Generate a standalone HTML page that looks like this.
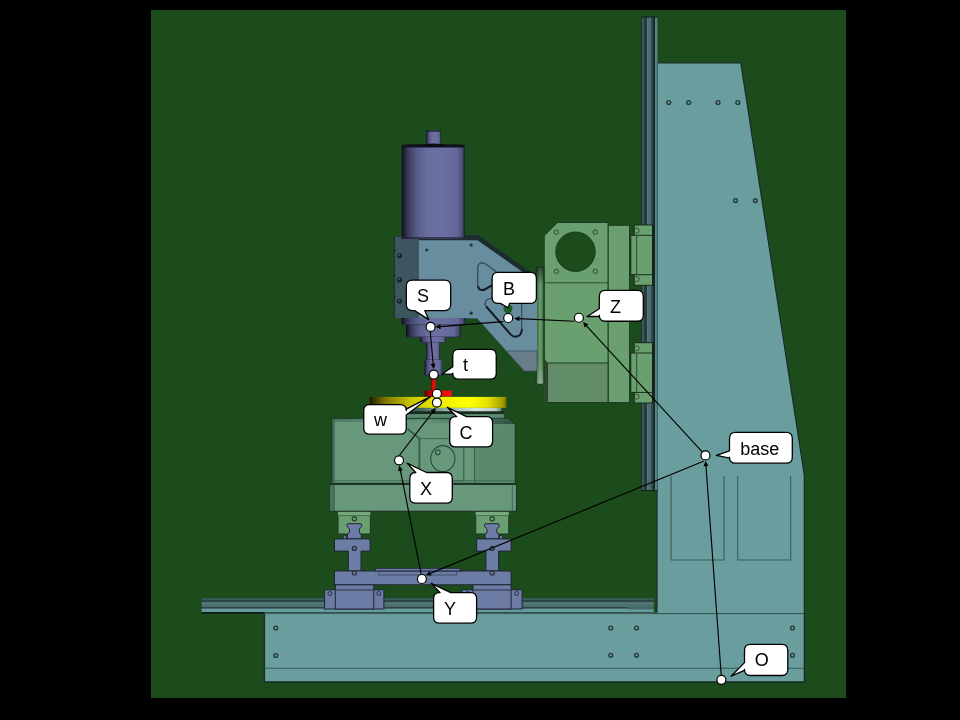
<!DOCTYPE html>
<html><head><meta charset="utf-8"><style>
html,body{margin:0;padding:0;background:#000;width:960px;height:720px;overflow:hidden}
svg{display:block}
text{font-family:"Liberation Sans",sans-serif}
</style></head><body>
<svg width="960" height="720" viewBox="0 0 960 720">
<rect x="0" y="0" width="960" height="720" fill="#000"/>
<rect x="151" y="10" width="695" height="688" fill="#1c4c1c"/>
<defs>
<filter id="nolcd" x="-10%" y="-10%" width="120%" height="130%"><feOffset dx="0" dy="0"/></filter>
<linearGradient id="zrail" x1="0" x2="1" y1="0" y2="0">
 <stop offset="0" stop-color="#142a1c"/><stop offset="0.05" stop-color="#142a1c"/>
 <stop offset="0.05" stop-color="#3c5a5e"/><stop offset="0.17" stop-color="#3c5a5e"/>
 <stop offset="0.17" stop-color="#283a3e"/><stop offset="0.33" stop-color="#283a3e"/>
 <stop offset="0.33" stop-color="#507878"/><stop offset="0.41" stop-color="#507878"/>
 <stop offset="0.41" stop-color="#4a6e6e"/><stop offset="0.58" stop-color="#4a6e6e"/>
 <stop offset="0.58" stop-color="#324a50"/><stop offset="0.71" stop-color="#324a50"/>
 <stop offset="0.71" stop-color="#1e282a"/><stop offset="0.81" stop-color="#1e282a"/>
 <stop offset="0.81" stop-color="#558282"/><stop offset="0.96" stop-color="#558282"/>
 <stop offset="0.96" stop-color="#3c5e5e"/><stop offset="1" stop-color="#3c5e5e"/>
</linearGradient>
<linearGradient id="hrail" x1="0" x2="0" y1="0" y2="1">
 <stop offset="0" stop-color="#3a5a5e"/><stop offset="0.136" stop-color="#3e6064"/>
 <stop offset="0.136" stop-color="#2c4446"/><stop offset="0.22" stop-color="#2c4446"/>
 <stop offset="0.22" stop-color="#507474"/><stop offset="0.434" stop-color="#527676"/>
 <stop offset="0.434" stop-color="#4a6c6c"/><stop offset="0.563" stop-color="#4c7070"/>
 <stop offset="0.563" stop-color="#2e4446"/><stop offset="0.621" stop-color="#2e4446"/>
 <stop offset="0.621" stop-color="#44666a"/><stop offset="0.718" stop-color="#44666a"/>
 <stop offset="0.718" stop-color="#669c9c"/><stop offset="0.919" stop-color="#669c9c"/>
 <stop offset="0.919" stop-color="#0e1a16"/><stop offset="1" stop-color="#0e1a16"/>
</linearGradient>
<linearGradient id="purp" x1="0" x2="1" y1="0" y2="0">
 <stop offset="0" stop-color="#0c0c1a"/><stop offset="0.05" stop-color="#25263e"/>
 <stop offset="0.12" stop-color="#3e4064"/><stop offset="0.25" stop-color="#595d8a"/>
 <stop offset="0.4" stop-color="#696d9f"/><stop offset="0.65" stop-color="#6b6fa1"/>
 <stop offset="0.88" stop-color="#62669a"/><stop offset="0.96" stop-color="#4a4d74"/>
 <stop offset="1" stop-color="#1a1a2c"/>
</linearGradient>
<linearGradient id="yel" x1="0" x2="1" y1="0" y2="0">
 <stop offset="0" stop-color="#1e1a00"/><stop offset="0.05" stop-color="#4a4200"/>
 <stop offset="0.12" stop-color="#807800"/><stop offset="0.3" stop-color="#c8c400"/>
 <stop offset="0.5" stop-color="#eeee00"/><stop offset="0.72" stop-color="#ffff00"/>
 <stop offset="0.85" stop-color="#e8e800"/><stop offset="0.97" stop-color="#a8a000"/>
 <stop offset="1" stop-color="#7a7000"/>
</linearGradient>
<linearGradient id="red" x1="0" x2="1" y1="0" y2="0">
 <stop offset="0" stop-color="#600000"/><stop offset="0.3" stop-color="#e00000"/>
 <stop offset="1" stop-color="#ff1010"/>
</linearGradient>
<linearGradient id="silver" x1="0" x2="0" y1="0" y2="1">
 <stop offset="0" stop-color="#3a5a50"/><stop offset="0.5" stop-color="#c8dcd4"/>
 <stop offset="1" stop-color="#507060"/>
</linearGradient>
<linearGradient id="gstrip" x1="0" x2="1" y1="0" y2="0">
 <stop offset="0" stop-color="#2e5a34"/><stop offset="0.5" stop-color="#6aa070"/>
 <stop offset="1" stop-color="#3c6a44"/>
</linearGradient>
<linearGradient id="gstripfade" x1="0" x2="0" y1="0" y2="1">
 <stop offset="0" stop-color="#000" stop-opacity="0.5"/><stop offset="0.15" stop-color="#000" stop-opacity="0"/>
 <stop offset="0.8" stop-color="#fff" stop-opacity="0"/><stop offset="1" stop-color="#fff" stop-opacity="0.25"/>
</linearGradient>
<linearGradient id="tband" x1="0" x2="1" y1="0" y2="0">
 <stop offset="0" stop-color="#4a7460"/><stop offset="0.25" stop-color="#5a8a70"/>
 <stop offset="0.5" stop-color="#629678"/><stop offset="0.8" stop-color="#4a7460"/><stop offset="1" stop-color="#2e5040"/>
</linearGradient>
<linearGradient id="step" x1="0" x2="0" y1="0" y2="1">
 <stop offset="0" stop-color="#16281f"/><stop offset="0.36" stop-color="#1a2e24"/>
 <stop offset="0.40" stop-color="#527e66"/><stop offset="0.6" stop-color="#5e9274"/><stop offset="0.8" stop-color="#4e7c62"/>
 <stop offset="0.82" stop-color="#2a4a38"/><stop offset="1" stop-color="#2a4a38"/>
</linearGradient>
<linearGradient id="silverh" x1="0" x2="1" y1="0" y2="0">
 <stop offset="0" stop-color="#2a4a3e"/><stop offset="0.35" stop-color="#3e6456"/>
 <stop offset="0.55" stop-color="#90aea2"/><stop offset="0.8" stop-color="#d0e2da"/><stop offset="0.95" stop-color="#b8ccc4"/><stop offset="1" stop-color="#6a8a80"/>
</linearGradient>
</defs>
<polygon points="657,63 740.8,63 804.3,475 804.3,613 657,613" fill="#6a9e9e"/>
<polyline points="657,613 657,63 740.8,63 804.3,475 804.3,613" fill="none" stroke="#1a2a2a" stroke-width="1.2"/>
<rect x="641.4" y="16.6" width="16.5" height="474.4" fill="url(#zrail)"/>
<rect x="641.4" y="16.3" width="16.5" height="1.3" fill="#142420"/>
<rect x="641.4" y="490" width="16.5" height="1.2" fill="#142420"/>
<circle cx="668.8" cy="102.5" r="1.9" fill="none" stroke="#253838" stroke-width="1.4"/>
<circle cx="688.7" cy="102.5" r="1.9" fill="none" stroke="#253838" stroke-width="1.4"/>
<circle cx="718" cy="102.5" r="1.9" fill="none" stroke="#253838" stroke-width="1.4"/>
<circle cx="737.8" cy="102.5" r="1.9" fill="none" stroke="#253838" stroke-width="1.4"/>
<circle cx="735.5" cy="200.6" r="1.9" fill="none" stroke="#253838" stroke-width="1.4"/>
<circle cx="755.4" cy="200.6" r="1.9" fill="none" stroke="#253838" stroke-width="1.4"/>
<polyline points="671,476 671,560 724,560 724,476" fill="none" stroke="#3a5c5c" stroke-width="1.1"/>
<polyline points="737.7,476 737.7,560 790.7,560 790.7,476" fill="none" stroke="#3a5c5c" stroke-width="1.1"/>
<rect x="264.4" y="612.8" width="540" height="69.2" fill="#6a9e9e"/>
<polyline points="264.4,609.6 264.4,682 804.4,682 804.4,613" fill="none" stroke="#1a2a2a" stroke-width="1.4"/>
<line x1="264.4" y1="613.6" x2="804.3" y2="613.6" stroke="#2e4a4a" stroke-width="1"/>
<line x1="264.4" y1="668.2" x2="804.3" y2="668.2" stroke="#3a5858" stroke-width="1.1"/>
<rect x="201.6" y="598.3" width="452.2" height="15.45" fill="url(#hrail)"/>
<rect x="264.4" y="612.4" width="389.4" height="1.4" fill="#4a7272"/>
<rect x="627.5" y="607" width="26.3" height="2.4" fill="#44686a"/>
<circle cx="275.8" cy="628" r="1.9" fill="none" stroke="#253838" stroke-width="1.4"/>
<circle cx="275.8" cy="655.5" r="1.9" fill="none" stroke="#253838" stroke-width="1.4"/>
<circle cx="610.75" cy="628" r="1.9" fill="none" stroke="#253838" stroke-width="1.4"/>
<circle cx="636.5" cy="628" r="1.9" fill="none" stroke="#253838" stroke-width="1.4"/>
<circle cx="610.75" cy="655.3" r="1.9" fill="none" stroke="#253838" stroke-width="1.4"/>
<circle cx="636.5" cy="655.3" r="1.9" fill="none" stroke="#253838" stroke-width="1.4"/>
<circle cx="792.5" cy="628" r="1.9" fill="none" stroke="#253838" stroke-width="1.4"/>
<circle cx="792.5" cy="655.3" r="1.9" fill="none" stroke="#253838" stroke-width="1.4"/>
<rect x="634.2" y="225" width="18.3" height="60.3" fill="#6aa070" stroke="#1a2a1a" stroke-width="1"/>
<rect x="630.8" y="235.3" width="21.7" height="39.4" fill="#6aa070" stroke="#1a2a1a" stroke-width="1"/>
<line x1="636.7" y1="235.3" x2="636.7" y2="274.7" stroke="#2a4a2e" stroke-width="1"/>
<path d="M635.2 228.2 l1.6 0 a2.4 2.4 0 0 1 0 4.8 l-1.6 0" fill="none" stroke="#2a4a2e" stroke-width="0.9"/>
<path d="M635.2 276.6 l1.6 0 a2.4 2.4 0 0 1 0 4.8 l-1.6 0" fill="none" stroke="#2a4a2e" stroke-width="0.9"/>
<rect x="652.4" y="225" width="1.8" height="60.3" fill="#142018"/>
<rect x="634.2" y="342.7" width="18.3" height="60.3" fill="#6aa070" stroke="#1a2a1a" stroke-width="1"/>
<rect x="630.8" y="353.0" width="21.7" height="39.4" fill="#6aa070" stroke="#1a2a1a" stroke-width="1"/>
<line x1="636.7" y1="353.0" x2="636.7" y2="392.4" stroke="#2a4a2e" stroke-width="1"/>
<path d="M635.2 345.9 l1.6 0 a2.4 2.4 0 0 1 0 4.8 l-1.6 0" fill="none" stroke="#2a4a2e" stroke-width="0.9"/>
<path d="M635.2 394.3 l1.6 0 a2.4 2.4 0 0 1 0 4.8 l-1.6 0" fill="none" stroke="#2a4a2e" stroke-width="0.9"/>
<rect x="652.4" y="342.7" width="1.8" height="60.3" fill="#142018"/>
<rect x="608" y="225.3" width="21.5" height="177.2" fill="#6aa070" stroke="#1e3a22" stroke-width="1"/>
<polygon points="544.2,235.8 557.5,222.5 608,222.5 608,402.5 544.2,402.5" fill="#6aa070" stroke="#1e3a22" stroke-width="1"/>
<line x1="544.2" y1="282.8" x2="608" y2="282.8" stroke="#2e4e32" stroke-width="1"/>
<circle cx="575.5" cy="251.7" r="19.7" fill="#1c4c1c" stroke="#1a3a1e" stroke-width="1"/>
<circle cx="556.3" cy="232.2" r="2.2" fill="none" stroke="#2a4a2e" stroke-width="1"/>
<circle cx="595.3" cy="232.2" r="2.2" fill="none" stroke="#2a4a2e" stroke-width="1"/>
<circle cx="556.3" cy="271.3" r="2.2" fill="none" stroke="#2a4a2e" stroke-width="1"/>
<circle cx="595.3" cy="271.3" r="2.2" fill="none" stroke="#2a4a2e" stroke-width="1"/>
<rect x="547.5" y="363" width="60.5" height="39.5" fill="#628c68" stroke="#1e3a22" stroke-width="1"/>
<polygon points="544.2,358 547.5,363 547.5,402.5 544.2,402.5" fill="#2a4a2e"/>
<rect x="536.2" y="267" width="7.7" height="117.3" fill="url(#gstrip)"/>
<rect x="536.2" y="267" width="7.7" height="117.3" fill="url(#gstripfade)"/>
<rect x="536.2" y="267" width="7.7" height="117.3" rx="1.5" fill="none" stroke="#1a2e1e" stroke-width="1"/>
<polygon points="394,236.5 478,235 537,276.5 537,371 524.4,371 477.2,319 394,318.2" fill="#1e2c30"/>
<rect x="394" y="236.8" width="24.8" height="81.4" fill="#3d555e"/>
<line x1="394.3" y1="237" x2="394.3" y2="318.2" stroke="#1c282e" stroke-width="1"/>
<path d="M393.8 250.7 l2.2 0" stroke="#1c282e" stroke-width="1"/>
<path d="M393.8 275 l2.2 0" stroke="#1c282e" stroke-width="1"/>
<path d="M393.8 297 l2.2 0" stroke="#1c282e" stroke-width="1"/>
<polygon points="418.8,240.3 477.5,240.3 537,282 537,371 524.4,371 477.2,318.6 418.8,317.8" fill="#678d9e"/>
<polygon points="506.3,351 537,351 537,371 524.4,371" fill="#6a7e8a" stroke="#3e5460" stroke-width="0.8"/>
<circle cx="426.7" cy="250" r="1.6" fill="#24363e"/>
<circle cx="471.1" cy="245.1" r="1.6" fill="#24363e"/>
<circle cx="471.1" cy="313.2" r="1.6" fill="#24363e"/>
<circle cx="399.5" cy="255.8" r="2.6" fill="#1a262c"/><circle cx="399" cy="255.20000000000002" r="1" fill="#3e5a64"/>
<circle cx="399.5" cy="279.9" r="2.6" fill="#1a262c"/><circle cx="399" cy="279.29999999999995" r="1" fill="#3e5a64"/>
<circle cx="399.5" cy="301.1" r="2.6" fill="#1a262c"/><circle cx="399" cy="300.5" r="1" fill="#3e5a64"/>
<path d="M477.7 268 Q477.7 261.8 484 263.2 Q485 263.6 486.5 264.6 L500 274.5 Q503 277.5 500 280 L485.5 288.8 Q477.7 292.5 477.7 285 Z" fill="none" stroke="#34484f" stroke-width="1.2"/>
<path d="M478.2 286 Q478.6 291.8 485.5 289.2 L493 284.8" fill="none" stroke="#141e22" stroke-width="2"/>
<path d="M490 298.6 L519 298.6 Q521.7 298.6 521.7 301.5 L521.7 330 Q521.7 336.5 515 336.5 Q512.5 336.5 510.5 334 L486.5 307 Q484.2 304.2 485.8 301.2 Q487.2 298.6 490 298.6 Z" fill="none" stroke="#34484f" stroke-width="1.2"/>
<path d="M486.2 306.5 L510.5 334.3 Q512.8 336.8 515.5 336.8 Q521.7 336.4 521.9 329" fill="none" stroke="#141e22" stroke-width="1.9"/>
<circle cx="508" cy="308.7" r="4.5" fill="#1e5a22"/>
<rect x="426.1" y="130.4" width="14.6" height="15" fill="url(#purp)"/>
<rect x="426.1" y="130.4" width="14.6" height="1.3" fill="#141420" opacity="0.85"/>
<rect x="401.7" y="145" width="63.1" height="94" fill="url(#purp)"/>
<path d="M401.7 147.6 L401.7 145.6 Q402.5 144.2 412 144.2 L454 144.2 Q464 144.2 464.8 145.6 L464.8 147.6 Z" fill="#12121e"/>
<ellipse cx="433.4" cy="145.2" rx="11" ry="1.8" fill="#0c0c16"/>
<rect x="401.7" y="237" width="63.3" height="2" fill="#22243a" opacity="0.7"/>
<rect x="401.6" y="318" width="63.799999999999955" height="6.699999999999989" fill="url(#purp)"/>
<line x1="401.6" y1="324.7" x2="465.4" y2="324.7" stroke="#2a2c44" stroke-width="0.8"/>
<rect x="406" y="324.7" width="54.69999999999999" height="12.300000000000011" fill="url(#purp)"/>
<line x1="406" y1="337" x2="460.7" y2="337" stroke="#2a2c44" stroke-width="0.8"/>
<rect x="420" y="337" width="25.69999999999999" height="5.5" fill="url(#purp)"/>
<line x1="420" y1="342.5" x2="445.7" y2="342.5" stroke="#2a2c44" stroke-width="0.8"/>
<rect x="426" y="342.5" width="13.699999999999989" height="17.5" fill="url(#purp)"/>
<line x1="426" y1="360" x2="439.7" y2="360" stroke="#2a2c44" stroke-width="0.8"/>
<rect x="424.6" y="360" width="17.399999999999977" height="15.399999999999977" fill="url(#purp)"/>
<line x1="424.6" y1="375.4" x2="442" y2="375.4" stroke="#2a2c44" stroke-width="0.8"/>
<rect x="431.1" y="375" width="4.2" height="16" fill="url(#red)"/>
<rect x="424.4" y="390.6" width="27.1" height="5.8" fill="url(#red)"/>
<polygon points="332,418.75 509,418.75 515,424 515,483.3 332,483.3" fill="#68987c" stroke="#1e3424" stroke-width="1.2"/>
<polygon points="332.6,419.3 508.8,419.3 514.4,424.2 514.4,424.4 332.6,421.6" fill="url(#tband)"/>
<rect x="474.5" y="424.5" width="40" height="58.3" fill="#5a8a6e"/>
<rect x="332.6" y="419.5" width="2.2" height="63.3" fill="#3e6650" opacity="0.8"/>
<line x1="474.5" y1="424" x2="474.5" y2="483" stroke="#3a5e46" stroke-width="1"/>
<polyline points="407.5,428.8 419.4,438.5 419.4,478.5" fill="none" stroke="#3a604a" stroke-width="2"/>
<polyline points="419.4,480.7 463.8,480.7 463.8,447.8" fill="none" stroke="#3e6650" stroke-width="1.3"/>
<line x1="419.4" y1="438.6" x2="474.5" y2="438.6" stroke="#426a50" stroke-width="1"/>
<ellipse cx="442.8" cy="458.6" rx="12.1" ry="13" fill="none" stroke="#2a4a36" stroke-width="1.1"/>
<circle cx="437.8" cy="452.2" r="2.4" fill="none" stroke="#2a4a36" stroke-width="1.1"/>
<line x1="333" y1="480.8" x2="514" y2="480.8" stroke="#426a50" stroke-width="1"/>
<rect x="329.8" y="484.4" width="186.7" height="26.9" fill="#68987c" stroke="#1e3424" stroke-width="1.2"/>
<rect x="330.4" y="485" width="3.4" height="25.7" fill="#4a7660"/>
<line x1="334" y1="484.4" x2="334" y2="511.3" stroke="#2e4e3a" stroke-width="1"/>
<line x1="512.3" y1="484.4" x2="512.3" y2="511.3" stroke="#426a50" stroke-width="1"/>
<rect x="381" y="411" width="122.8" height="8.2" fill="url(#step)"/>
<rect x="377" y="407.6" width="124.4" height="3.6" rx="1.5" fill="url(#silverh)"/>
<rect x="369.6" y="396.9" width="136.8" height="10.9" fill="url(#yel)"/>
<rect x="338" y="511.9" width="32.39999999999998" height="22.1" fill="#6aa070" stroke="#1e3a22" stroke-width="1.1"/>
<rect x="338" y="511.9" width="32.39999999999998" height="3.6" fill="#74a87e"/>
<line x1="338" y1="515.6" x2="370.4" y2="515.6" stroke="#3e6a46" stroke-width="0.9"/>
<circle cx="354.4" cy="518.7" r="2.1" fill="none" stroke="#24402a" stroke-width="1.2"/>
<rect x="343.3" y="535.8" width="2.8" height="3.4" fill="#6c7ca4" stroke="#1e2434" stroke-width="0.6"/>
<path d="M348.2 523.7 L360.5 523.7 Q361.7 523.7 361.7 525 L361.7 526.5 Q358.9 528.5 359.09999999999997 531 Q359.09999999999997 533.2 361.3 534.7 L361.3 538.9 L347.4 538.9 L347.4 534.7 Q349.6 533.2 349.6 531 Q349.8 528.5 347 526.5 L347 525 Q347 523.7 348.2 523.7 Z" fill="#6c7ca4" stroke="#1e2434" stroke-width="1"/>
<path d="M334.5 538.9 L370.1 538.9 L370.1 551.1 L361 551.1 L361 571 L348.3 571 L348.3 551.1 L334.5 551.1 Z" fill="#6c7ca4" stroke="#1e2434" stroke-width="1"/>
<circle cx="354.4" cy="548.4" r="2" fill="none" stroke="#262c3c" stroke-width="1.3"/>
<rect x="475.7" y="511.9" width="33.10000000000002" height="22.1" fill="#6aa070" stroke="#1e3a22" stroke-width="1.1"/>
<rect x="475.7" y="511.9" width="33.10000000000002" height="3.6" fill="#74a87e"/>
<line x1="475.7" y1="515.6" x2="508.8" y2="515.6" stroke="#3e6a46" stroke-width="0.9"/>
<circle cx="492.2" cy="518.7" r="2.1" fill="none" stroke="#24402a" stroke-width="1.2"/>
<rect x="499.6" y="535.8" width="2.8" height="3.4" fill="#6c7ca4" stroke="#1e2434" stroke-width="0.6"/>
<path d="M485.8 523.7 L498.0 523.7 Q499.2 523.7 499.2 525 L499.2 526.5 Q496.4 528.5 496.59999999999997 531 Q496.59999999999997 533.2 498.8 534.7 L498.8 538.9 L485.0 538.9 L485.0 534.7 Q487.20000000000005 533.2 487.20000000000005 531 Q487.40000000000003 528.5 484.6 526.5 L484.6 525 Q484.6 523.7 485.8 523.7 Z" fill="#6c7ca4" stroke="#1e2434" stroke-width="1"/>
<path d="M476.7 538.9 L511.1 538.9 L511.1 551.1 L498.6 551.1 L498.6 571 L485.9 571 L485.9 551.1 L476.7 551.1 Z" fill="#6c7ca4" stroke="#1e2434" stroke-width="1"/>
<circle cx="492.2" cy="548.4" r="2" fill="none" stroke="#262c3c" stroke-width="1.3"/>
<rect x="334.5" y="571" width="176.6" height="13.8" fill="#6c7ca4" stroke="#1e2434" stroke-width="1"/>
<circle cx="354.4" cy="573" r="2" fill="none" stroke="#2a3040" stroke-width="1.2"/>
<circle cx="492.2" cy="573" r="2" fill="none" stroke="#2a3040" stroke-width="1.2"/>
<rect x="375.3" y="568.3" width="84.7" height="2.7" fill="#6c7ca4" stroke="#1e2434" stroke-width="0.8"/>
<rect x="378.7" y="571" width="78" height="4" fill="none" stroke="#3a4460" stroke-width="0.8"/>
<rect x="324.6" y="589.8" width="59.299999999999955" height="19.2" fill="#6c7ca4" stroke="#1e2434" stroke-width="1"/>
<rect x="335.3" y="584.8" width="38.5" height="24.2" fill="#6c7ca4" stroke="#1e2434" stroke-width="1"/>
<line x1="335.3" y1="590" x2="373.8" y2="590" stroke="#2a3040" stroke-width="1"/>
<circle cx="329.95000000000005" cy="593.5" r="2" fill="none" stroke="#2a3040" stroke-width="1"/>
<circle cx="378.85" cy="593.5" r="2" fill="none" stroke="#2a3040" stroke-width="1"/>
<rect x="462" y="589.8" width="60.10000000000002" height="19.2" fill="#6c7ca4" stroke="#1e2434" stroke-width="1"/>
<rect x="473" y="584.8" width="38.10000000000002" height="24.2" fill="#6c7ca4" stroke="#1e2434" stroke-width="1"/>
<line x1="473" y1="590" x2="511.1" y2="590" stroke="#2a3040" stroke-width="1"/>
<circle cx="467.5" cy="593.5" r="2" fill="none" stroke="#2a3040" stroke-width="1"/>
<circle cx="516.6" cy="593.5" r="2" fill="none" stroke="#2a3040" stroke-width="1"/>
<line x1="574.20" y1="321.30" x2="518.40" y2="318.60" stroke="#000" stroke-width="1.15"/>
<polygon points="514.20,318.40 519.51,316.15 519.27,321.15" fill="#000"/>
<line x1="503.30" y1="321.60" x2="439.59" y2="326.67" stroke="#000" stroke-width="1.15"/>
<polygon points="435.40,327.00 440.39,324.10 440.78,329.08" fill="#000"/>
<line x1="430.30" y1="332.00" x2="433.23" y2="364.72" stroke="#000" stroke-width="1.15"/>
<polygon points="433.60,368.90 430.65,363.94 435.63,363.50" fill="#000"/>
<line x1="702.20" y1="451.90" x2="585.84" y2="325.09" stroke="#000" stroke-width="1.15"/>
<polygon points="583.00,322.00 588.36,324.14 584.67,327.52" fill="#000"/>
<line x1="704.00" y1="461.00" x2="429.69" y2="573.61" stroke="#000" stroke-width="1.15"/>
<polygon points="425.80,575.20 429.66,570.91 431.56,575.54" fill="#000"/>
<line x1="721.20" y1="675.00" x2="705.91" y2="465.19" stroke="#000" stroke-width="1.15"/>
<polygon points="705.60,461.00 708.47,466.00 703.48,466.37" fill="#000"/>
<line x1="421.10" y1="573.60" x2="400.23" y2="469.72" stroke="#000" stroke-width="1.15"/>
<polygon points="399.40,465.60 402.88,470.21 397.97,471.19" fill="#000"/>
<line x1="399.30" y1="455.50" x2="433.24" y2="411.33" stroke="#000" stroke-width="1.15"/>
<polygon points="435.80,408.00 434.61,413.65 430.65,410.60" fill="#000"/>
<circle cx="430.6" cy="326.9" r="4.5" fill="#fff" stroke="#000" stroke-width="1.2"/>
<circle cx="508.2" cy="318" r="4.5" fill="#fff" stroke="#000" stroke-width="1.2"/>
<circle cx="578.9" cy="317.75" r="4.5" fill="#fff" stroke="#000" stroke-width="1.2"/>
<circle cx="433.75" cy="374.6" r="4.5" fill="#fff" stroke="#000" stroke-width="1.2"/>
<circle cx="436.9" cy="393.75" r="4.5" fill="#fff" stroke="#000" stroke-width="1.2"/>
<circle cx="436.9" cy="402.6" r="4.5" fill="#fff" stroke="#000" stroke-width="1.2"/>
<circle cx="399" cy="460.3" r="4.5" fill="#fff" stroke="#000" stroke-width="1.2"/>
<circle cx="705.5" cy="455.4" r="4.5" fill="#fff" stroke="#000" stroke-width="1.2"/>
<circle cx="421.9" cy="579" r="4.5" fill="#fff" stroke="#000" stroke-width="1.2"/>
<circle cx="721.4" cy="679.8" r="4.5" fill="#fff" stroke="#000" stroke-width="1.2"/>
<g filter="url(#nolcd)"><path d="M412.3 280.2 L444.7 280.2 Q450.7 280.2 450.7 286.2 L450.7 304.6 Q450.7 310.6 444.7 310.6 L424.8 310.6 L428.7 319.6 L414.6 310.6 L412.3 310.6 Q406.3 310.6 406.3 304.6 L406.3 286.2 Q406.3 280.2 412.3 280.2 Z" fill="#fff" stroke="#000" stroke-width="1.3" stroke-linejoin="round"/><text x="417" y="302" font-family="Liberation Sans" font-size="18" fill="#000">S</text></g>
<g filter="url(#nolcd)"><path d="M498.1 272.3 L530.4 272.3 Q536.4 272.3 536.4 278.3 L536.4 297.4 Q536.4 303.4 530.4 303.4 L509.6 303.4 L508.2 307.8 L500.4 303.4 L498.1 303.4 Q492.1 303.4 492.1 297.4 L492.1 278.3 Q492.1 272.3 498.1 272.3 Z" fill="#fff" stroke="#000" stroke-width="1.3" stroke-linejoin="round"/><text x="503" y="294.6" font-family="Liberation Sans" font-size="18" fill="#000">B</text></g>
<g filter="url(#nolcd)"><path d="M605.3 290.4 L637.3 290.4 Q643.3 290.4 643.3 296.4 L643.3 315.25 Q643.3 321.25 637.3 321.25 L605.3 321.25 Q599.3 321.25 599.3 315.25 L599.3 316.25 L587.1 316.5 L599.3 308.75 L599.3 296.4 Q599.3 290.4 605.3 290.4 Z" fill="#fff" stroke="#000" stroke-width="1.3" stroke-linejoin="round"/><text x="610" y="312.75" font-family="Liberation Sans" font-size="18" fill="#000">Z</text></g>
<g filter="url(#nolcd)"><path d="M458.75 349.3 L490.25 349.3 Q496.25 349.3 496.25 355.3 L496.25 373.2 Q496.25 379.2 490.25 379.2 L458.75 379.2 Q452.75 379.2 452.75 373.2 L452.75 374.2 L441.8 374.2 L452.75 366.7 L452.75 355.3 Q452.75 349.3 458.75 349.3 Z" fill="#fff" stroke="#000" stroke-width="1.3" stroke-linejoin="round"/><text x="463" y="371.25" font-family="Liberation Sans" font-size="18" fill="#000">t</text></g>
<g filter="url(#nolcd)"><path d="M369.75 404.6 L400.25 404.6 Q406.25 404.6 406.25 410.6 L406.25 409.2 L430.4 396.7 L406.25 415 L406.25 428.2 Q406.25 434.2 400.25 434.2 L369.75 434.2 Q363.75 434.2 363.75 428.2 L363.75 410.6 Q363.75 404.6 369.75 404.6 Z" fill="#fff" stroke="#000" stroke-width="1.3" stroke-linejoin="round"/><text x="374" y="425.8" font-family="Liberation Sans" font-size="18" fill="#000">w</text></g>
<g filter="url(#nolcd)"><path d="M455.7 416.7 L456.7 416.7 L447.3 407.3 L466.6 416.7 L486.6 416.7 Q492.6 416.7 492.6 422.7 L492.6 440.9 Q492.6 446.9 486.6 446.9 L455.7 446.9 Q449.7 446.9 449.7 440.9 L449.7 422.7 Q449.7 416.7 455.7 416.7 Z" fill="#fff" stroke="#000" stroke-width="1.3" stroke-linejoin="round"/><text x="459.5" y="438.75" font-family="Liberation Sans" font-size="18" fill="#000">C</text></g>
<g filter="url(#nolcd)"><path d="M415.8 472.5 L415.7 472.5 L407.1 463.1 L426.5 472.5 L446.3 472.5 Q452.3 472.5 452.3 478.5 L452.3 497.2 Q452.3 503.2 446.3 503.2 L415.8 503.2 Q409.8 503.2 409.8 497.2 L409.8 478.5 Q409.8 472.5 415.8 472.5 Z" fill="#fff" stroke="#000" stroke-width="1.3" stroke-linejoin="round"/><text x="420" y="494.7" font-family="Liberation Sans" font-size="18" fill="#000">X</text></g>
<g filter="url(#nolcd)"><path d="M735.5 432.4 L786.3 432.4 Q792.3 432.4 792.3 438.4 L792.3 457.2 Q792.3 463.2 786.3 463.2 L735.5 463.2 Q729.5 463.2 729.5 457.2 L729.5 458.2 L716.4 455.4 L729.5 450.8 L729.5 438.4 Q729.5 432.4 735.5 432.4 Z" fill="#fff" stroke="#000" stroke-width="1.3" stroke-linejoin="round"/><text x="740.3" y="455" font-family="Liberation Sans" font-size="18" fill="#000">base</text></g>
<g filter="url(#nolcd)"><path d="M439.6 592.6 L440.1 592.6 L431.2 583.3 L450.8 592.6 L470.6 592.6 Q476.6 592.6 476.6 598.6 L476.6 617.2 Q476.6 623.2 470.6 623.2 L439.6 623.2 Q433.6 623.2 433.6 617.2 L433.6 598.6 Q433.6 592.6 439.6 592.6 Z" fill="#fff" stroke="#000" stroke-width="1.3" stroke-linejoin="round"/><text x="444" y="614.9" font-family="Liberation Sans" font-size="18" fill="#000">Y</text></g>
<g filter="url(#nolcd)"><path d="M750.5 644.4 L781.8 644.4 Q787.8 644.4 787.8 650.4 L787.8 669.5 Q787.8 675.5 781.8 675.5 L750.5 675.5 Q744.5 675.5 744.5 669.5 L744.5 670.4 L731.1 676.2 L744.5 662.6 L744.5 650.4 Q744.5 644.4 750.5 644.4 Z" fill="#fff" stroke="#000" stroke-width="1.3" stroke-linejoin="round"/><text x="754.8" y="666.4" font-family="Liberation Sans" font-size="18" fill="#000">O</text></g>
</svg>
</body></html>
